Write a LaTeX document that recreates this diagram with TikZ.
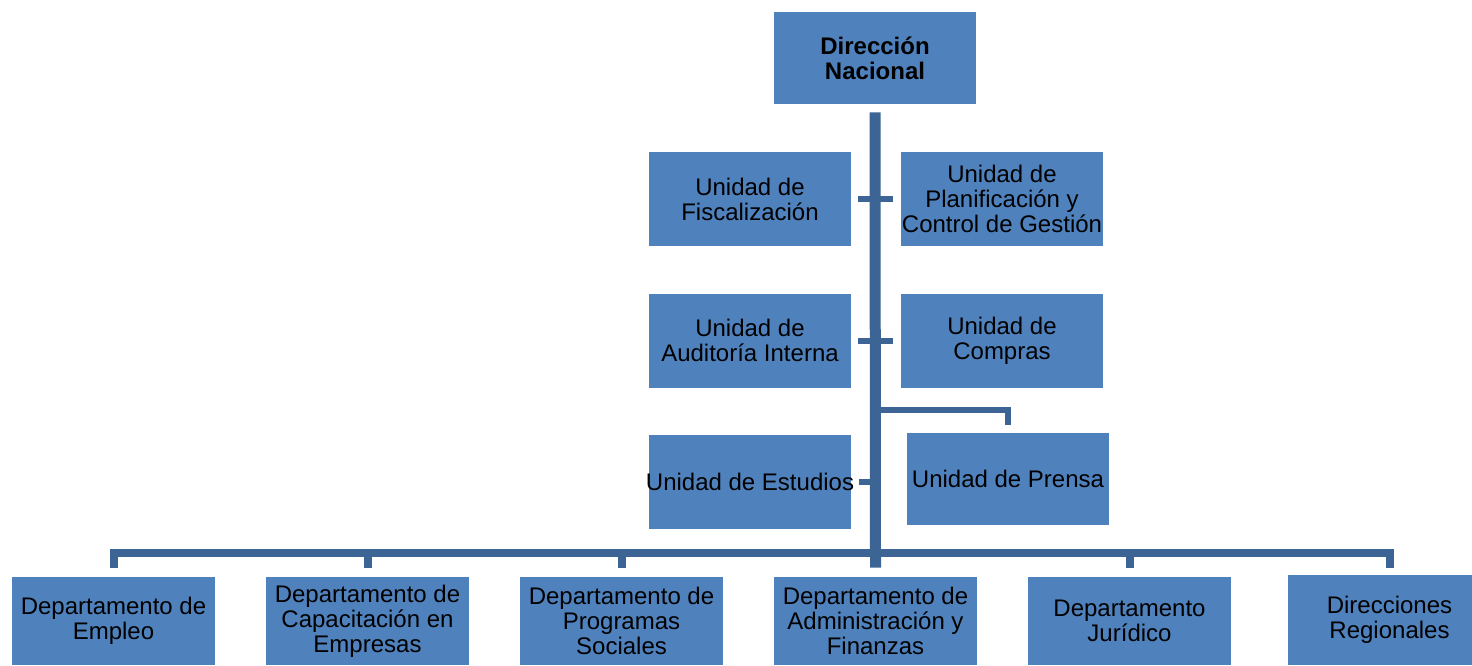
\documentclass[tikz,border=0pt]{standalone}
\usepackage{fontspec}
\setmainfont{Liberation Sans}
\usepackage{tikz}
\definecolor{orgblue}{RGB}{79,129,189}
\definecolor{orgline}{RGB}{60,100,149}
\tikzstyle{head} = [rectangle, minimum width=101pt, minimum height=46pt, inner sep=0pt, text centered, align=center, fill=orgblue, font=\fontsize{12}{12.5}\selectfont\bfseries]
\tikzstyle{unit} = [rectangle, minimum width=101pt, minimum height=47pt, inner sep=0pt, text centered, align=center, fill=orgblue, font=\fontsize{12}{12.5}\selectfont]
\tikzstyle{dept} = [rectangle, minimum width=101.5pt, minimum height=44pt, inner sep=0pt, text centered, align=center, fill=orgblue, font=\fontsize{12}{12.4}\selectfont]
\tikzstyle{trunk} = [line width=5.5pt, draw=orgline]
\tikzstyle{bus} = [line width=4pt, draw=orgline]
\tikzstyle{stub} = [line width=3pt, draw=orgline]

\begin{document}
\begin{tikzpicture}
			[x=0.5pt, y=-0.5pt, node distance=126pt]

			\clip (0,0) rectangle (1472,665);

			\node (dn) [head] at (875,58) {Dirección\\Nacional};

			\node (fisc) [unit] at (750,199) {Unidad de\\Fiscalización};
			\node (plan) [unit, right of=fisc] {Unidad de\\Planificación y\\Control de Gestión};
			\node (aud) [unit] at (750,340.5) {Unidad de\\Auditoría Interna};
			\node (comp) [unit, right of=aud] {Unidad de\\Compras};
			\node (est) [unit, inner xsep=-1.6pt] at (750,482) {Unidad de Estudios};
			\node (pren) [unit, minimum height=46pt] at (1008,479) {Unidad de Prensa};

			\node (emp) [dept] at (113.5,621) {Departamento de\\Empleo};
			\node (cap) [dept, right of=emp, node distance=127pt] {Departamento de\\Capacitación en\\Empresas};
			\node (prog) [dept, right of=cap, node distance=127pt] {Departamento de\\Programas\\Sociales};
			\node (adm) [dept, right of=prog, node distance=127pt] {Departamento de\\Administración y\\Finanzas};
			\node (jur) [dept, right of=adm, node distance=127pt] {Departamento\\Jurídico};
			\node (reg) [dept, right of=jur, node distance=130pt, minimum height=45pt, yshift=0.5pt] {Direcciones\\Regionales};

			\coordinate (busline) at (875,553);
			\coordinate (prfork) at (876,409.5);

			\draw [stub] ([xshift=3.5pt]fisc.east) -- ([xshift=-4pt]plan.west);
			\draw [stub] ([xshift=3.5pt]aud.east) -- ([xshift=-4pt]comp.west);
			\draw [stub] ([xshift=4pt]est.east) -- (est.east -| dn.south);
			\draw [stub] (prfork) -| ([yshift=4pt]pren.north);

			\draw [trunk] ([yshift=-4pt]dn.south) -- ([yshift=4.5pt]adm.north);

			\draw [bus] ([yshift=4.5pt]emp.north) |- (busline) -| ([yshift=3.5pt]reg.north);
			\draw [bus] ([yshift=4.5pt]cap.north) -- (cap.north |- busline);
			\draw [bus] ([yshift=4.5pt]prog.north) -- (prog.north |- busline);
			\draw [bus] ([yshift=4.5pt]jur.north) -- (jur.north |- busline);

			\end{tikzpicture}
\end{document}
